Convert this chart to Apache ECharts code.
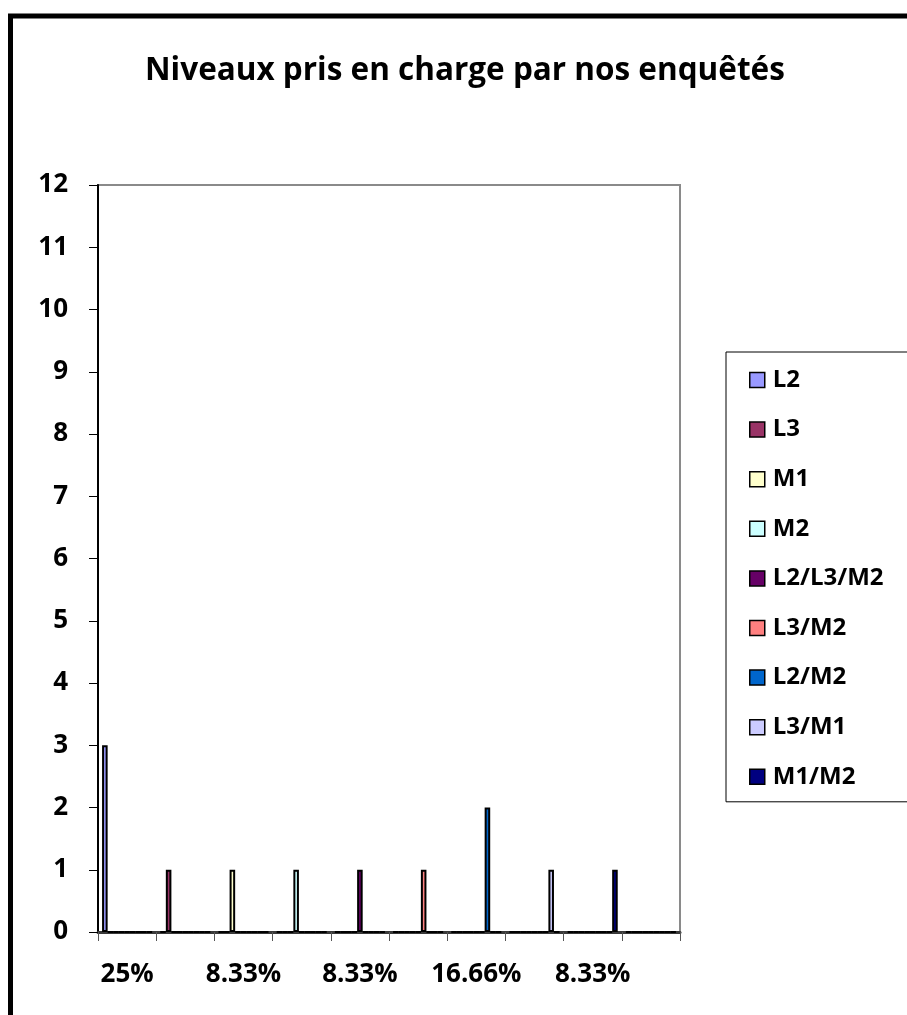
<!DOCTYPE html>
<html>
<head>
<meta charset="utf-8">
<title>Niveaux pris en charge</title>
<script src="https://cdn.jsdelivr.net/npm/echarts@6/dist/echarts.min.js"></script>
<style>
  html, body {
    margin: 0;
    padding: 0;
    background: #fff;
  }
  #chart {
    width: 907px;
    height: 1015px;
  }
</style>
</head>
<body>
<div id="chart"></div>
<script>
// niveaux (séries) et nombre d'enquêtés par niveau
const niveaux = ['L2', 'L3', 'M1', 'M2', 'L2/L3/M2', 'L3/M2', 'L2/M2', 'L3/M1', 'M1/M2']
const effectifs = [3, 1, 1, 1, 1, 1, 2, 1, 1]
// catégories de l'axe x (pourcentages)
const pourcentages = ['25%', '8.33%', '8.33%', '8.33%', '8.33%', '8.33%', '16.66%', '8.33%', '8.33%', '']
// graduations de l'axe y
const yMin = 0
const yMax = 12
const yPas = 1

const couleurs = ['#9999ff', '#993366', '#ffffcc', '#ccffff', '#660066', '#ff8080', '#0066cc', '#ccccff', '#000080']
const police = "'Open Sans', sans-serif"

const myChart = echarts.init(document.getElementById('chart'))

// chaque niveau a sa valeur dans sa propre catégorie, 0 ailleurs
const series = niveaux.map((nom, i) => ({
  name: nom,
  type: 'bar',
  barGap: '0%',
  barCategoryGap: '14%',
  animation: false,
  data: pourcentages.map((p, j) => (j === i ? effectifs[i] : 0)),
  itemStyle: {
    color: couleurs[i],
    borderColor: '#000',
    borderWidth: 2
  }
}))

const option = {
  backgroundColor: '#fff',
  title: {
    text: 'Niveaux pris en charge par nos enquêtés',
    left: 140,
    top: 50,
    textStyle: {
      fontFamily: police,
      fontSize: 31.5,
      fontWeight: 'bold',
      color: '#000'
    }
  },
  graphic: [
    {
      // cadre noir extérieur (coupé à droite et en bas)
      type: 'rect',
      shape: { x: 10.5, y: 16, width: 1200, height: 1200 },
      style: { fill: 'none', stroke: '#000', lineWidth: 5 },
      silent: true
    }
  ],
  legend: {
    orient: 'vertical',
    left: 726,
    top: 352,
    padding: [16, 80, 13, 23],
    itemWidth: 15,
    itemHeight: 15,
    itemGap: 25.6,
    borderColor: '#000',
    borderWidth: 1,
    icon: 'rect',
    itemStyle: {
      borderColor: '#000',
      borderWidth: 1.5
    },
    textStyle: {
      fontFamily: police,
      fontSize: 24,
      fontWeight: 'bold',
      color: '#000',
      lineHeight: 24,
      padding: [0, 0, 0, 3]
    },
    data: niveaux
  },
  grid: {
    left: 98,
    top: 185,
    width: 582,
    height: 747,
    show: true,
    borderColor: '#8a8a8a',
    borderWidth: 2,
    backgroundColor: '#fff',
    containLabel: false
  },
  xAxis: {
    type: 'category',
    data: pourcentages,
    axisLine: {
      lineStyle: { color: '#3a3a3a', width: 3 }
    },
    axisTick: {
      show: true,
      interval: 0,
      alignWithLabel: false,
      length: 9,
      lineStyle: { color: '#555', width: 1 }
    },
    axisLabel: {
      interval: 1,
      margin: 30,
      fontFamily: police,
      fontSize: 26,
      fontWeight: 'bold',
      color: '#000'
    },
    splitLine: { show: false }
  },
  yAxis: {
    type: 'value',
    min: yMin,
    max: yMax,
    interval: yPas,
    axisLine: {
      show: true,
      lineStyle: { color: '#000', width: 2 }
    },
    axisTick: {
      show: true,
      length: 9,
      lineStyle: { color: '#000', width: 1 }
    },
    axisLabel: {
      margin: 30,
      fontFamily: police,
      fontSize: 26,
      fontWeight: 'bold',
      color: '#000'
    },
    splitLine: { show: false }
  },
  series
}

myChart.setOption(option)
</script>
</body>
</html>
